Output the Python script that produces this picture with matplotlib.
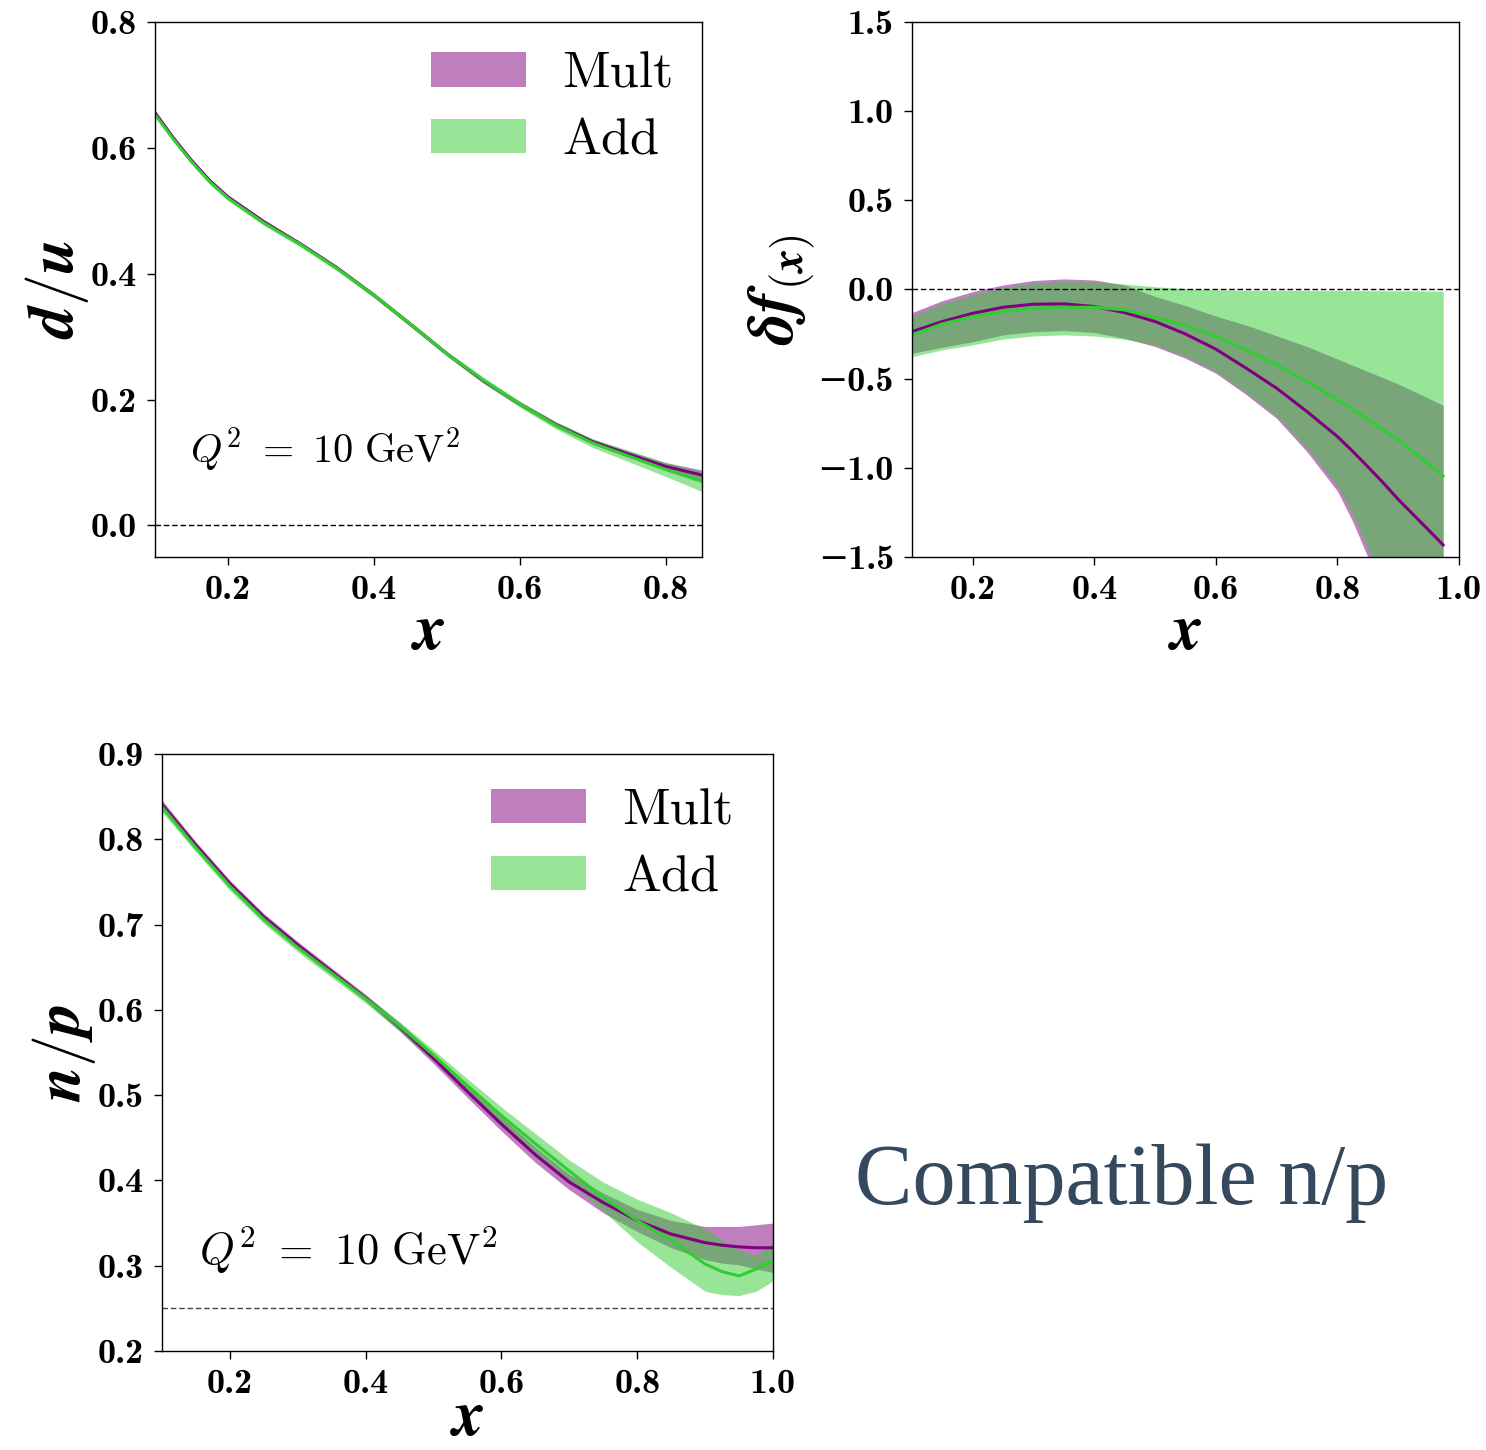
import matplotlib
matplotlib.use('Agg')
import matplotlib.pyplot as plt
from matplotlib.ticker import FixedLocator, FuncFormatter

plt.rcParams['mathtext.fontset'] = 'cm'
plt.rcParams['axes.linewidth'] = 1.0
plt.rcParams['axes.formatter.use_mathtext'] = False

# ---------------- d/u ----------------
x_du = [0.10, 0.125, 0.15, 0.175, 0.20, 0.25, 0.30, 0.35, 0.40, 0.45, 0.50, 0.55, 0.60, 0.65, 0.70, 0.75, 0.80, 0.85]
du_mult = [0.656, 0.616, 0.580, 0.548, 0.522, 0.482, 0.447, 0.409, 0.366, 0.320, 0.273, 0.230, 0.193, 0.160, 0.133, 0.113, 0.094, 0.080]
du_mult_err = [0.003, 0.003, 0.003, 0.003, 0.003, 0.003, 0.003, 0.003, 0.003, 0.003, 0.003, 0.003, 0.003, 0.004, 0.004, 0.005, 0.006, 0.008]
du_add = [0.653, 0.614, 0.578, 0.546, 0.520, 0.480, 0.446, 0.408, 0.366, 0.320, 0.273, 0.231, 0.193, 0.159, 0.131, 0.110, 0.089, 0.070]
du_add_err = [0.004, 0.004, 0.004, 0.004, 0.004, 0.004, 0.004, 0.004, 0.004, 0.004, 0.004, 0.005, 0.005, 0.006, 0.007, 0.009, 0.011, 0.016]

# ---------------- delta f(x) ----------------
x_df = [0.10, 0.15, 0.20, 0.25, 0.30, 0.35, 0.40, 0.45, 0.50, 0.55, 0.60, 0.65, 0.70, 0.75, 0.80, 0.825, 0.85, 0.875, 0.90, 0.95, 0.974]
df_mult = [-0.237, -0.180, -0.134, -0.100, -0.083, -0.081, -0.096, -0.130, -0.180, -0.250, -0.335, -0.442, -0.554, -0.685, -0.825, -0.907, -0.994, -1.083, -1.177, -1.349, -1.433]
df_mult_hi = [-0.130, -0.063, -0.012, 0.025, 0.050, 0.059, 0.053, 0.025, -0.040, -0.090, -0.150, -0.200, -0.260, -0.320, -0.390, -0.425, -0.460, -0.495, -0.530, -0.610, -0.650]
df_mult_lo = [-0.358, -0.324, -0.293, -0.255, -0.237, -0.231, -0.242, -0.274, -0.320, -0.386, -0.470, -0.590, -0.723, -0.910, -1.130, -1.300, -1.500, -1.720, -1.950, -2.400, -2.600]
df_add = [-0.255, -0.193, -0.152, -0.124, -0.107, -0.100, -0.100, -0.115, -0.158, -0.200, -0.265, -0.339, -0.423, -0.517, -0.620, -0.673, -0.728, -0.785, -0.844, -0.979, -1.046]
df_add_hi = [-0.150, -0.080, -0.030, 0.010, 0.035, 0.045, 0.042, 0.030, 0.015, 0.005, -0.002, -0.005, -0.005, -0.006, -0.006, -0.0065, -0.007, -0.0075, -0.008, -0.009, -0.010]
df_add_lo = [-0.377, -0.339, -0.311, -0.278, -0.261, -0.255, -0.261, -0.280, -0.311, -0.375, -0.460, -0.580, -0.710, -0.890, -1.100, -1.260, -1.450, -1.670, -1.900, -2.350, -2.550]

# ---------------- n/p ----------------
x_np = [0.10, 0.15, 0.20, 0.25, 0.30, 0.35, 0.40, 0.45, 0.50, 0.55, 0.60, 0.65, 0.70, 0.75, 0.80, 0.85, 0.90, 0.925, 0.95, 0.975, 1.00]
np_mult = [0.841, 0.793, 0.748, 0.709, 0.676, 0.645, 0.614, 0.580, 0.543, 0.504, 0.466, 0.430, 0.398, 0.374, 0.353, 0.337, 0.327, 0.324, 0.322, 0.321, 0.321]
np_mult_hi = [0.846, 0.797, 0.752, 0.713, 0.680, 0.649, 0.618, 0.585, 0.549, 0.511, 0.474, 0.439, 0.407, 0.385, 0.366, 0.353, 0.346, 0.346, 0.346, 0.348, 0.350]
np_mult_lo = [0.835, 0.788, 0.744, 0.705, 0.672, 0.641, 0.610, 0.575, 0.537, 0.497, 0.458, 0.421, 0.389, 0.362, 0.340, 0.321, 0.307, 0.303, 0.301, 0.296, 0.292]
np_add = [0.838, 0.790, 0.745, 0.706, 0.673, 0.643, 0.613, 0.581, 0.547, 0.511, 0.476, 0.443, 0.411, 0.380, 0.353, 0.330, 0.302, 0.293, 0.288, 0.296, 0.306]
np_add_hi = [0.843, 0.795, 0.750, 0.711, 0.678, 0.647, 0.617, 0.586, 0.553, 0.519, 0.486, 0.455, 0.424, 0.398, 0.378, 0.362, 0.343, 0.330, 0.318, 0.312, 0.327]
np_add_lo = [0.832, 0.785, 0.740, 0.701, 0.668, 0.638, 0.608, 0.575, 0.540, 0.503, 0.466, 0.431, 0.398, 0.364, 0.328, 0.298, 0.270, 0.266, 0.265, 0.270, 0.282]

PURPLE = 'purple'
GREEN = 'limegreen'
TICKFONT = ['cmb10', 'DejaVu Serif']
LABEL_SIZE = 46
Q2_TEXT = r'$Q^2\ =\ 10\ \mathrm{GeV}^2$'


def tickfmt(v, pos):
    s = '%.1f' % abs(v)
    return '\u2212' + s if v < 0 else s


def style_axes(ax, xticks, yticks):
    ax.xaxis.set_major_locator(FixedLocator(xticks))
    ax.yaxis.set_major_locator(FixedLocator(yticks))
    ax.xaxis.set_major_formatter(FuncFormatter(tickfmt))
    ax.yaxis.set_major_formatter(FuncFormatter(tickfmt))
    ax.tick_params(direction='out', length=6, width=1, labelsize=26, pad=7,
                   top=False, right=False, labelfontfamily=TICKFONT)


def add_legend(ax, anchor):
    ax.legend(loc='upper right', bbox_to_anchor=anchor, frameon=False,
              prop={'family': 'cmr10', 'size': 37.5},
              handlelength=1.82, handleheight=0.64, handletextpad=0.7,
              labelspacing=0.4, borderaxespad=0.0)


fig = plt.figure(figsize=(14.86, 14.5), dpi=100)

# top left: d/u
ax1 = fig.add_axes([0.1043, 0.6159, 0.3681, 0.369])
lo = [m - e for m, e in zip(du_mult, du_mult_err)]
hi = [m + e for m, e in zip(du_mult, du_mult_err)]
ax1.fill_between(x_du, lo, hi, color=PURPLE, alpha=0.5, lw=0, label='Mult')
lo = [m - e for m, e in zip(du_add, du_add_err)]
hi = [m + e for m, e in zip(du_add, du_add_err)]
ax1.fill_between(x_du, lo, hi, color=GREEN, alpha=0.5, lw=0, label='Add')
ax1.plot(x_du, du_mult, color=PURPLE, lw=2.2)
ax1.plot(x_du, du_add, color=GREEN, lw=2.2)
ax1.axhline(0.0, color='black', lw=1, ls=(0, (4, 2)))
ax1.set_xlim(0.1, 0.85)
ax1.set_ylim(-0.05, 0.8)
style_axes(ax1, [0.2, 0.4, 0.6, 0.8], [0.0, 0.2, 0.4, 0.6, 0.8])
ax1.set_xlabel(r'$\boldsymbol{x}$', fontsize=LABEL_SIZE, labelpad=-4)
ax1.set_ylabel(r'$\boldsymbol{d/u}$', fontsize=LABEL_SIZE, labelpad=0)
ax1.text(0.064, 0.176, Q2_TEXT, transform=ax1.transAxes, fontsize=29)
add_legend(ax1, (0.986, 0.983))

# top right: delta f(x)
ax2 = fig.add_axes([0.6137, 0.6159, 0.3681, 0.369])
ax2.fill_between(x_df, df_mult_lo, df_mult_hi, color=PURPLE, alpha=0.5, lw=0)
ax2.fill_between(x_df, df_add_lo, df_add_hi, color=GREEN, alpha=0.5, lw=0)
ax2.plot(x_df, df_mult, color=PURPLE, lw=2.2)
ax2.plot(x_df, df_add, color=GREEN, lw=2.2)
ax2.axhline(0.0, color='black', lw=1, ls=(0, (4, 2)))
ax2.set_xlim(0.1, 1.0)
ax2.set_ylim(-1.5, 1.5)
style_axes(ax2, [0.2, 0.4, 0.6, 0.8, 1.0], [-1.5, -1.0, -0.5, 0.0, 0.5, 1.0, 1.5])
ax2.set_xlabel(r'$\boldsymbol{x}$', fontsize=LABEL_SIZE, labelpad=-4)
ax2.set_ylabel(r'$\boldsymbol{\delta f}_{\boldsymbol{(x)}}$', fontsize=LABEL_SIZE, labelpad=0)

# bottom left: n/p
ax3 = fig.add_axes([0.109, 0.0683, 0.4112, 0.4117])
ax3.fill_between(x_np, np_mult_lo, np_mult_hi, color=PURPLE, alpha=0.5, lw=0, label='Mult')
ax3.fill_between(x_np, np_add_lo, np_add_hi, color=GREEN, alpha=0.5, lw=0, label='Add')
ax3.plot(x_np, np_mult, color=PURPLE, lw=2.2)
ax3.plot(x_np, np_add, color=GREEN, lw=2.2)
ax3.axhline(0.25, color='#444444', lw=1, ls=(0, (4, 2)))
ax3.set_xlim(0.1, 1.0)
ax3.set_ylim(0.2, 0.9)
style_axes(ax3, [0.2, 0.4, 0.6, 0.8, 1.0], [0.2, 0.3, 0.4, 0.5, 0.6, 0.7, 0.8, 0.9])
ax3.set_xlabel(r'$\boldsymbol{x}$', fontsize=LABEL_SIZE, labelpad=-10)
ax3.set_ylabel(r'$\boldsymbol{n/p}$', fontsize=LABEL_SIZE, labelpad=0)
ax3.text(0.06, 0.144, Q2_TEXT, transform=ax3.transAxes, fontsize=32)
add_legend(ax3, (0.97, 0.977))

fig.text(0.755, 0.184, 'Compatible n/p', fontsize=62, color='#34495e',
         family='Liberation Serif', ha='center', va='center')

plt.savefig('out.png', dpi=100)
plt.close()
